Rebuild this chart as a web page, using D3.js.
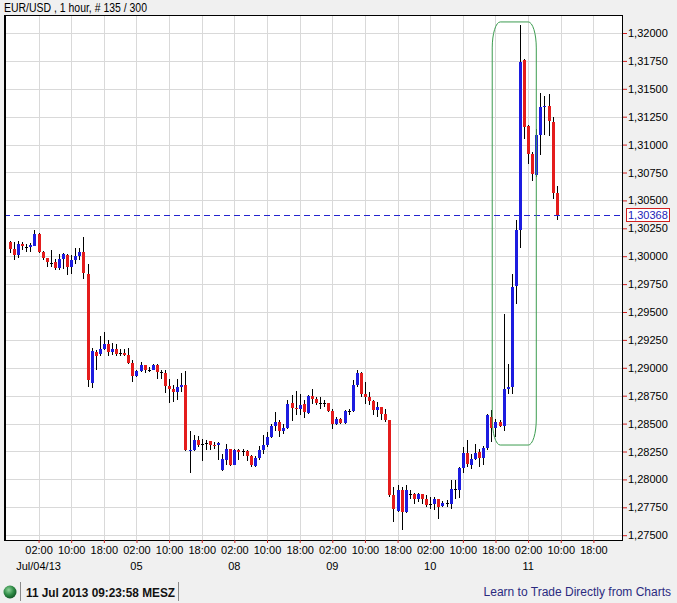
<!DOCTYPE html>
<html><head><meta charset="utf-8">
<script src="https://cdn.jsdelivr.net/npm/d3@7"></script>
<style>
html,body{margin:0;padding:0;background:#f0f0f0;}
svg{display:block;font-family:"Liberation Sans",Arial,sans-serif;}
</style></head>
<body>
<svg id="c" width="677" height="603"></svg>
<script>
// ---- data (EUR/USD, 1 hour candles) ----
const opens = [
1.30128,1.30063,1.30015,1.30110,1.30080,1.30084,1.30093,1.30203,1.30036,1.29985,
1.29943,1.29946,1.29895,1.29976,1.30009,1.29904,1.29964,1.30000,1.30036,1.29844,
1.28868,1.29143,1.29122,1.29164,1.29211,1.29140,1.29167,1.29130,1.29134,1.29113,
1.29044,1.28928,1.28972,1.29023,1.28981,1.28981,1.29029,1.28961,1.28955,1.28838,
1.28814,1.28784,1.28829,1.28844,1.28259,1.28262,1.28351,1.28318,1.28324,1.28342,
1.28309,1.28312,1.28082,1.28178,1.28276,1.28127,1.28262,1.28253,1.28256,1.28208,
1.28118,1.28196,1.28262,1.28306,1.28381,1.28476,1.28515,1.28434,1.28461,1.28686,
1.28644,1.28635,1.28680,1.28596,1.28745,1.28716,1.28689,1.28683,1.28686,1.28614,
1.28500,1.28545,1.28506,1.28611,1.28611,1.28844,1.28949,1.28763,1.28740,1.28701,
1.28620,1.28650,1.28584,1.28530,1.27858,1.27718,1.27909,1.27709,1.27864,1.27867,
1.27820,1.27867,1.27820,1.27775,1.27778,1.27820,1.27760,1.27787,1.27784,1.27918,
1.27909,1.28103,1.28238,1.28127,1.28187,1.28244,1.28196,1.28285,1.28560,1.28464,
1.28515,1.28476,1.28814,1.28829,1.29731,1.30239,1.31756,1.31165,1.30914,1.30725,
1.31084,1.31338,1.31344,1.31203,1.30568];
const highs = [
1.30137,1.30128,1.30137,1.30128,1.30113,1.30120,1.30233,1.30210,1.30048,1.29988,
1.30054,1.29973,1.30024,1.30033,1.30024,1.30009,1.30069,1.30069,1.30173,1.29934,
1.29173,1.29158,1.29283,1.29319,1.29248,1.29218,1.29211,1.29170,1.29170,1.29173,
1.29074,1.28978,1.29053,1.29023,1.29008,1.29032,1.29038,1.28978,1.28978,1.28904,
1.28844,1.28904,1.28949,1.28969,1.28434,1.28396,1.28387,1.28366,1.28351,1.28342,
1.28336,1.28336,1.28232,1.28321,1.28276,1.28276,1.28276,1.28276,1.28267,1.28217,
1.28208,1.28297,1.28396,1.28426,1.28500,1.28605,1.28530,1.28500,1.28710,1.28754,
1.28790,1.28769,1.28710,1.28754,1.28814,1.28734,1.28734,1.28710,1.28686,1.28635,
1.28560,1.28554,1.28620,1.28635,1.28889,1.28978,1.28964,1.28874,1.28784,1.28710,
1.28695,1.28650,1.28635,1.28530,1.27933,1.27948,1.27933,1.27948,1.27909,1.27879,
1.27879,1.27873,1.27858,1.27843,1.27843,1.27820,1.27808,1.27814,1.27993,1.27993,
1.28112,1.28291,1.28357,1.28232,1.28321,1.28276,1.28297,1.28584,1.28620,1.28545,
1.28536,1.29486,1.29032,1.29838,1.30323,1.32070,1.31771,1.31174,1.30935,1.31144,
1.31463,1.31434,1.31452,1.31248,1.30627];
const lows = [
1.30033,1.29970,1.29988,1.30060,1.30039,1.30039,1.30090,1.30030,1.29964,1.29904,
1.29904,1.29874,1.29874,1.29889,1.29830,1.29844,1.29934,1.29970,1.29800,1.28829,
1.28823,1.28984,1.29107,1.29158,1.29104,1.29119,1.29107,1.29107,1.29104,1.29038,
1.28874,1.28919,1.28963,1.28949,1.28963,1.28978,1.28904,1.28904,1.28775,1.28686,
1.28695,1.28710,1.28784,1.28256,1.28059,1.28256,1.28291,1.28166,1.28267,1.28262,
1.28276,1.28172,1.28076,1.28127,1.28118,1.28127,1.28178,1.28208,1.28166,1.28112,
1.28112,1.28172,1.28232,1.28291,1.28375,1.28434,1.28381,1.28411,1.28455,1.28524,
1.28575,1.28575,1.28554,1.28584,1.28680,1.28665,1.28635,1.28650,1.28605,1.28455,
1.28485,1.28500,1.28500,1.28575,1.28605,1.28829,1.28740,1.28680,1.28665,1.28575,
1.28560,1.28530,1.28515,1.27843,1.27620,1.27709,1.27545,1.27700,1.27820,1.27784,
1.27799,1.27778,1.27754,1.27739,1.27724,1.27649,1.27754,1.27754,1.27739,1.27820,
1.27829,1.28059,1.28112,1.28097,1.28172,1.28112,1.28127,1.28267,1.28336,1.28381,
1.28470,1.28434,1.28769,1.28769,1.29576,1.30069,1.31054,1.30830,1.30675,1.30711,
1.30905,1.31084,1.31078,1.30517,1.30323];
const closes = [
1.30063,1.30015,1.30108,1.30095,1.30078,1.30096,1.30203,1.30039,1.29985,1.29946,
1.29940,1.29898,1.29973,1.30018,1.29904,1.29964,1.30003,1.30039,1.29850,1.28889,
1.29149,1.29107,1.29167,1.29211,1.29143,1.29167,1.29125,1.29128,1.29116,1.29044,
1.28928,1.28969,1.29023,1.28984,1.28978,1.29023,1.28963,1.28958,1.28838,1.28814,
1.28784,1.28829,1.28844,1.28262,1.28267,1.28351,1.28306,1.28321,1.28327,1.28306,
1.28303,1.28327,1.28181,1.28276,1.28127,1.28262,1.28247,1.28256,1.28208,1.28127,
1.28196,1.28262,1.28306,1.28381,1.28476,1.28515,1.28434,1.28461,1.28680,1.28644,
1.28629,1.28671,1.28605,1.28745,1.28716,1.28686,1.28686,1.28686,1.28614,1.28500,
1.28545,1.28506,1.28614,1.28614,1.28844,1.28949,1.28769,1.28740,1.28701,1.28620,
1.28650,1.28584,1.28530,1.27858,1.27739,1.27909,1.27709,1.27909,1.27867,1.27820,
1.27867,1.27820,1.27775,1.27778,1.27820,1.27754,1.27790,1.27784,1.27918,1.27915,
1.28103,1.28241,1.28136,1.28187,1.28238,1.28196,1.28285,1.28575,1.28464,1.28515,
1.28476,1.28814,1.28829,1.29725,1.30239,1.31741,1.31159,1.30914,1.30734,1.31084,
1.31338,1.31344,1.31212,1.30568,1.30368];

const currentPrice = 1.30368;
const yTicks = [1.275,1.2775,1.28,1.2825,1.285,1.2875,1.29,1.2925,1.295,1.2975,
                1.30,1.3025,1.305,1.3075,1.31,1.3125,1.315,1.3175,1.32];
const xTickIndex = [7,15,23,31,39,47,55,63,71,79,87,95,103,111,119,127,135,143];
const xTickLabels = ["02:00","10:00","18:00","02:00","10:00","18:00","02:00","10:00","18:00",
                     "02:00","10:00","18:00","02:00","10:00","18:00","02:00","10:00","18:00"];
const dateIndex = [7,31,55,79,103,127];
const dateLabels = ["Jul/04/13","05","08","09","10","11"];
const highlightRange = [118.2, 129.0, 1.32099, 1.28308]; // index/price extents of green marker
const titleText = "EUR/USD , 1 hour, # 135 / 300";
const statusTime = "11 Jul 2013 09:23:58 MESZ";
const linkText = "Learn to Trade Directly from Charts";

// ---- layout ----
const W = 677, H = 603;
const pL = 4, pR = 623, pT = 15, pB = 540;
const svg = d3.select("#c");
const x = d3.scaleLinear().domain([0, 143]).range([10, 593.4]);
const y = d3.scaleLinear().domain([1.275, 1.32]).range([535.2, 33]);
const RED = "#e41c1c", BLUE = "#1c1ce0";

svg.append("rect").attr("width", W).attr("height", H).attr("fill", "#f0f0f0");
svg.append("rect").attr("x", pL).attr("y", pT).attr("width", pR - pL).attr("height", pB - pT).attr("fill", "#fff");

// grid
const grid = svg.append("g").attr("shape-rendering", "crispEdges").attr("stroke", "#d9d9d9");
grid.selectAll("line.h").data(yTicks).join("line").attr("class", "h")
  .attr("x1", pL).attr("x2", pR)
  .attr("y1", d => Math.round(y(d)) + 0.5).attr("y2", d => Math.round(y(d)) + 0.5);
grid.selectAll("line.v").data(xTickIndex).join("line").attr("class", "v")
  .attr("y1", pT).attr("y2", pB)
  .attr("x1", d => Math.round(x(d)) + 0.5).attr("x2", d => Math.round(x(d)) + 0.5);

// candles
const data = opens.map((o, i) => ({i, o, h: highs[i], l: lows[i], c: closes[i]}));
const cg = svg.append("g").attr("shape-rendering", "crispEdges");
cg.selectAll("line").data(data).join("line")
  .attr("x1", d => Math.round(x(d.i)) + 0.5).attr("x2", d => Math.round(x(d.i)) + 0.5)
  .attr("y1", d => y(d.h)).attr("y2", d => y(d.l))
  .attr("stroke", "#000").attr("stroke-width", 1);
cg.selectAll("rect").data(data).join("rect")
  .attr("x", d => Math.round(x(d.i)) - 1).attr("width", 3)
  .attr("y", d => Math.min(y(d.o), y(d.c)))
  .attr("height", d => Math.max(1, Math.abs(y(d.o) - y(d.c))))
  .attr("fill", d => Math.abs(d.c - d.o) < 0.00004 ? "#000" : (d.c > d.o ? BLUE : RED));

// current price line
svg.append("line").attr("x1", pL).attr("x2", pR)
  .attr("y1", Math.round(y(currentPrice)) + 0.5).attr("y2", Math.round(y(currentPrice)) + 0.5)
  .attr("stroke", "#2222d0").attr("stroke-width", 1.2).attr("stroke-dasharray", "6,4");

// highlight marker
const hx0 = x(highlightRange[0]), hx1 = x(highlightRange[1]);
const hy0 = y(highlightRange[2]), hy1 = y(highlightRange[3]);
svg.append("rect").attr("x", hx0).attr("y", hy0).attr("width", hx1 - hx0).attr("height", hy1 - hy0)
  .attr("rx", 8).attr("ry", 26).attr("fill", "none").attr("stroke", "#3c9c50").attr("stroke-width", 1);

// frame
svg.append("rect").attr("x", pL + 0.5).attr("y", pT + 0.5).attr("width", pR - pL - 1).attr("height", pB - pT)
  .attr("fill", "none").attr("stroke", "#000").attr("shape-rendering", "crispEdges");
svg.append("line").attr("x1", pL + 1.5).attr("x2", pL + 1.5).attr("y1", pT).attr("y2", pB)
  .attr("stroke", "#000").attr("shape-rendering", "crispEdges");

// y axis
const fmt = d => d3.format(".5f")(d).replace(".", ",");
const ya = svg.append("g").attr("transform", `translate(${pR},0)`)
  .call(d3.axisRight(y).tickValues(yTicks).tickSize(4).tickPadding(1).tickFormat(fmt));
ya.select(".domain").remove();
ya.selectAll(".tick line").attr("stroke", "#d02020");
ya.selectAll(".tick text").attr("font-size", 11).attr("fill", "#000")
  .attr("font-family", "'Liberation Sans',Arial,sans-serif");

// x axis
const xa = svg.append("g").attr("transform", `translate(0,${pB})`)
  .call(d3.axisBottom(x).tickValues(xTickIndex).tickSize(3).tickPadding(3)
    .tickFormat((d, k) => xTickLabels[k]));
xa.select(".domain").remove();
xa.selectAll(".tick line").attr("stroke", "#d02020");
xa.selectAll(".tick text").attr("font-size", 11).attr("fill", "#000")
  .attr("font-family", "'Liberation Sans',Arial,sans-serif");
svg.append("g").selectAll("text").data(dateIndex).join("text")
  .attr("x", d => x(d)).attr("y", 569.5).attr("text-anchor", "middle")
  .attr("font-size", 11).attr("fill", "#000").text((d, k) => dateLabels[k]);

// current price label
const cpY = y(currentPrice);
svg.append("rect").attr("x", 626.5).attr("y", Math.round(cpY) - 6.5).attr("width", 43).attr("height", 13)
  .attr("fill", "#fff").attr("stroke", "#d02020");
svg.append("text").attr("x", 628).attr("y", cpY + 4).attr("font-size", 11).attr("fill", "#1c1cb8")
  .text(fmt(currentPrice));

// title
svg.append("text").attr("x", 4).attr("y", 12).attr("font-size", 12).attr("fill", "#000")
  .attr("textLength", 143).attr("lengthAdjust", "spacingAndGlyphs").text(titleText);

// status bar
const grad = svg.append("defs").append("radialGradient").attr("id", "gb")
  .attr("cx", "40%").attr("cy", "35%").attr("r", "65%");
grad.append("stop").attr("offset", "0%").attr("stop-color", "#8fd39a");
grad.append("stop").attr("offset", "60%").attr("stop-color", "#2e8a45");
grad.append("stop").attr("offset", "100%").attr("stop-color", "#155a28");
svg.append("circle").attr("cx", 10).attr("cy", 592).attr("r", 6.5).attr("fill", "url(#gb)");
svg.selectAll("line.sep").data([20, 178]).join("line").attr("class", "sep")
  .attr("x1", d => d + 0.5).attr("x2", d => d + 0.5).attr("y1", 582).attr("y2", 601)
  .attr("stroke", "#8a8a8a");
svg.append("text").attr("x", 26).attr("y", 597).attr("font-size", 12).attr("font-weight", "bold")
  .attr("fill", "#111").attr("textLength", 149).attr("lengthAdjust", "spacingAndGlyphs").text(statusTime);
svg.append("text").attr("x", 671).attr("y", 596).attr("text-anchor", "end").attr("font-size", 12)
  .attr("fill", "#2b2b80").text(linkText);
</script>
</body></html>
